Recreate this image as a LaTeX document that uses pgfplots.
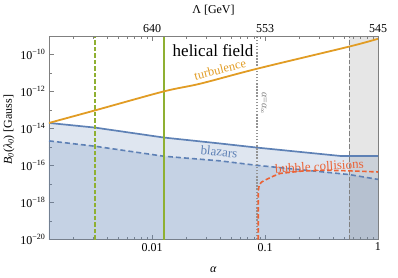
\documentclass[border=0pt]{standalone}
\usepackage{pgfplots}
\pgfplotsset{compat=1.18}
\usepackage{fontspec}
\setmainfont{Liberation Serif}
\definecolor{mblue}{HTML}{5E81B5}
\definecolor{morange}{HTML}{E19C24}
\definecolor{mgreen}{HTML}{8FB032}
\definecolor{mred}{HTML}{EB6235}
\definecolor{framec}{gray}{0.5}
\definecolor{lgray}{gray}{0.5}
\begin{document}
\begin{tikzpicture}
\path[use as bounding box] (-49pt,-37.5pt) rectangle (349pt,239.5pt);
\begin{axis}[
  at={(0pt,0pt)}, anchor=south west,
  scale only axis, width=329pt, height=203.5pt,
  xmode=log, ymode=log,
  xmin=0.001225, xmax=1, ymin=1e-20, ymax=1e-9,
  axis line style={framec, line width=0.7pt},
  tick style={framec, line width=0.6pt},
  major tick length=5pt, minor tick length=3pt,
  tick align=inside,
  xtick pos=bottom, ytick pos=left,
  xtick={0.01,0.1,1}, xticklabels={0.01,0.1,1},
  minor xtick={0.002,0.003,0.004,0.005,0.006,0.007,0.008,0.009,0.02,0.03,0.04,0.05,0.06,0.07,0.08,0.09,0.2,0.3,0.4,0.5,0.6,0.7,0.8,0.9},
  ytick={1e-20,1e-18,1e-16,1e-14,1e-12,1e-10},
  yticklabels={10\textsuperscript{−20},10\textsuperscript{−18},10\textsuperscript{−16},10\textsuperscript{−14},10\textsuperscript{−12},10\textsuperscript{−10}},
  minor ytick={1e-19,1e-17,1e-15,1e-13,1e-11},
  tick label style={font=\fontsize{12}{14}\selectfont},
  xlabel={\textit{α}},
  xlabel style={at={(axis description cs:0.5,-0.15)}, anchor=center, font=\fontsize{12}{14}\selectfont},
  ylabel={\textit{B}\textsubscript{\textit{0}}(\textit{λ}\textsubscript{\textit{0}}) [Gauss]},
  ylabel style={at={(axis description cs:-0.122,0.54)}, anchor=center, font=\fontsize{12}{14}\selectfont},
]
% fills
\addplot[draw=none, fill=mblue, fill opacity=0.2] coordinates {
  (0.001225,2.0e-14) (0.00313,1.12e-14) (0.01277,3.24e-15) (0.04,1.55e-15)
  (0.0849,9.3e-16) (0.461,3.3e-16) (1,3.3e-16) (1,1e-20) (0.001225,1e-20)} -- cycle;
\addplot[draw=none, fill=mblue, fill opacity=0.2] coordinates {
  (0.001225,2.14e-15) (0.00313,1.1e-15) (0.01277,3.16e-16) (0.04,1.78e-16)
  (0.0849,1.02e-16) (0.557,3.24e-17) (1,1.78e-17) (1,1e-20) (0.001225,1e-20)} -- cycle;
\addplot[draw=none, fill=black!50, fill opacity=0.2] coordinates {
  (0.557,1e-20) (1,1e-20) (1,1e-9) (0.557,1e-9)} -- cycle;
% blazars
\addplot[mblue, line width=1.7pt] coordinates {
  (0.001225,2.0e-14) (0.00313,1.12e-14) (0.01277,3.24e-15) (0.04,1.55e-15)
  (0.0849,9.3e-16) (0.461,3.3e-16) (1,3.3e-16)};
\addplot[mblue, line width=1.6pt, dash pattern=on 5pt off 3pt] coordinates {
  (0.001225,2.14e-15) (0.00313,1.1e-15) (0.01277,3.16e-16) (0.04,1.78e-16)
  (0.0849,1.02e-16) (0.557,3.24e-17) (1,1.78e-17)};
% vertical lines
\addplot[mgreen, line width=1.6pt, dash pattern=on 4.5pt off 2pt] coordinates {(0.00313,1e-20) (0.00313,1e-9)};
\addplot[mgreen, line width=1.8pt] coordinates {(0.01277,1e-20) (0.01277,1e-9)};
\addplot[gray!85, line width=1.5pt, dash pattern=on 1.5pt off 1.6pt] coordinates {(0.0849,1e-20) (0.0849,1e-9)};
\addplot[lgray, line width=1.5pt, dash pattern=on 4.5pt off 2pt] coordinates {(0.557,1e-20) (0.557,1e-9)};
% turbulence
\addplot[morange, line width=1.8pt, smooth] coordinates {
  (0.001225,2.0e-14) (0.00313,9.55e-14) (0.01277,1.02e-12) (0.0266,2.63e-12)
  (0.0849,1.7e-11) (0.557,2.69e-10) (1,7.08e-10)};
% bubble collisions
\addplot[mred, line width=1.6pt, dash pattern=on 4.5pt off 2.5pt] coordinates {
  (0.0872,1e-20) (0.0872,3.16e-18) (0.0875,5e-18) (0.089,8.9e-18) (0.093,1.26e-17)
  (0.1,1.62e-17) (0.118,2.63e-17) (0.136,3.72e-17) (0.204,4.9e-17) (0.3,5.5e-17)
  (0.45,5.37e-17) (0.7,4.9e-17) (1,4.47e-17)};
% labels
\node[font=\fontsize{17}{20}\selectfont, inner sep=1pt] at (axis cs:0.0347,1.65e-10) {helical field};
\node[font=\fontsize{12.5}{15}\selectfont, text=morange, rotate=14, inner sep=0pt] at (axis cs:0.0400,1.55e-11) {turbulence};
\node[font=\fontsize{13}{15}\selectfont, text=mblue, rotate=-6] at (axis cs:0.0392,5.5e-16) {blazars};
\node[font=\fontsize{13}{15}\selectfont, text=mred, rotate=3] at (axis cs:0.303,9.1e-17) {bubble collisions};
\node[font=\fontsize{10}{11}\selectfont, text=lgray, rotate=-90, inner sep=1pt] at (axis cs:0.097,2.3e-13) {\textit{α}=\textit{α}\textsubscript{∞}};
\end{axis}
\begin{axis}[
  at={(0pt,0pt)}, anchor=south west,
  scale only axis, width=329pt, height=203.5pt,
  xmode=log, ymode=log,
  xmin=0.001225, xmax=1, ymin=1e-20, ymax=1e-9,
  axis x line*=top, axis y line=none,
  axis line style={framec, line width=0.7pt, -},
  tick style={framec, line width=0.6pt},
  major tick length=5pt, minor tick length=3pt,
  tick align=inside,
  xtick={0.01,0.1,1}, xticklabels={640,553,545},
  minor xtick={0.002,0.003,0.004,0.005,0.006,0.007,0.008,0.009,0.02,0.03,0.04,0.05,0.06,0.07,0.08,0.09,0.2,0.3,0.4,0.5,0.6,0.7,0.8,0.9},
  tick label style={font=\fontsize{12}{14}\selectfont},
  xlabel={Λ [GeV]},
  xlabel style={at={(axis description cs:0.5,1.128)}, anchor=center, font=\fontsize{12}{14}\selectfont},
]
\end{axis}
\end{tikzpicture}
\end{document}
